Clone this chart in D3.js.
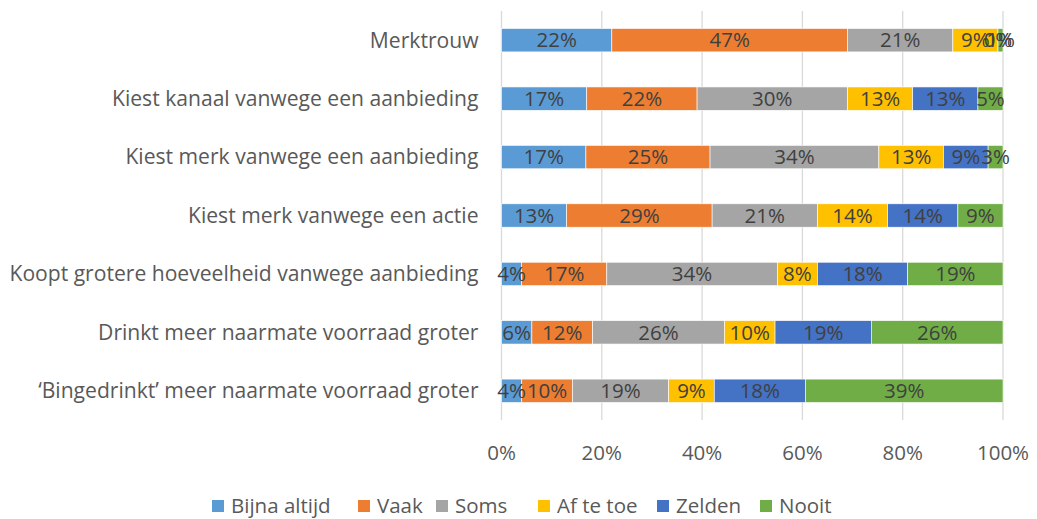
<!DOCTYPE html>
<html>
<head>
<meta charset="utf-8">
<script src="https://cdn.jsdelivr.net/npm/d3@7"></script>
<style>
  body { margin: 0; background: #fff; }
  svg { display: block; }
</style>
</head>
<body>
<svg id="chart" width="1037" height="519"></svg>
<script>
const categories = [
    'Merktrouw',
    'Kiest kanaal vanwege een aanbieding',
    'Kiest merk vanwege een aanbieding',
    'Kiest merk vanwege een actie',
    'Koopt grotere hoeveelheid vanwege aanbieding',
    'Drinkt meer naarmate voorraad groter',
    '\u2018Bingedrinkt\u2019 meer naarmate voorraad groter'
];
const seriesNames = ['Bijna altijd', 'Vaak', 'Soms', 'Af te toe', 'Zelden', 'Nooit'];
const seriesColors = ['#5B9BD5', '#ED7D31', '#A5A5A5', '#FFC000', '#4472C4', '#70AD47'];

const bijnaAltijd = [22, 17, 17, 13, 4, 6, 4];
const vaak = [47, 22, 25, 29, 17, 12, 10];
const soms = [21, 30, 34, 21, 34, 26, 19];
const afTeToe = [9, 13, 13, 14, 8, 10, 9];
const zelden = [0, 13, 9, 14, 18, 19, 18];
const nooit = [1, 5, 3, 9, 19, 26, 39];

const xTicks = [0, 0.2, 0.4, 0.6, 0.8, 1];

const fontFamily = "'Open Sans', sans-serif";
const fontSize = 20.5;

const seriesValues = [bijnaAltijd, vaak, soms, afTeToe, zelden, nooit];
const rows = categories.map((c, i) => {
    let row = { category: c };
    seriesNames.forEach((s, j) => { row[s] = seriesValues[j][i]; });
    return row;
});

const margin = { left: 501.5, top: 11, right: 34, bottom: 99 };
const width = 1037 - margin.left - margin.right;
const height = 519 - margin.top - margin.bottom;

const svg = d3.select('#chart');
const g = svg.append('g')
    .attr('transform', 'translate(' + margin.left + ',' + margin.top + ')');

const x = d3.scaleLinear().domain([0, 1]).range([0, width]);
const y = d3.scaleBand().domain(categories).range([0, height])
    .paddingInner(0.6).paddingOuter(0.3);
const color = d3.scaleOrdinal().domain(seriesNames).range(seriesColors);

const stacked = d3.stack().keys(seriesNames).offset(d3.stackOffsetExpand)(rows);

//gridlines
g.append('g')
    .selectAll('line')
    .data(xTicks)
    .join('line')
    .attr('x1', d => x(d))
    .attr('x2', d => x(d))
    .attr('y1', 0)
    .attr('y2', height)
    .style('stroke', '#D9D9D9')
    .style('stroke-width', 1.3);

//bars
const layers = g.append('g')
    .selectAll('g')
    .data(stacked)
    .join('g')
    .attr('fill', d => color(d.key));

layers.selectAll('rect')
    .data(d => d)
    .join('rect')
    .attr('x', d => x(d[0]))
    .attr('y', d => y(d.data.category))
    .attr('width', d => Math.max(0, x(d[1]) - x(d[0])))
    .attr('height', y.bandwidth())
    .style('stroke', '#fff')
    .style('stroke-width', 0.6);

//segment labels
const labels = g.append('g');
stacked.forEach(layer => {
    layer.forEach(d => {
        labels.append('text')
            .text(d.data[layer.key] + '%')
            .attr('x', (x(d[0]) + x(d[1])) / 2)
            .attr('y', y(d.data.category) + y.bandwidth() / 2)
            .attr('dy', '0.35em')
            .attr('text-anchor', 'middle')
            .attr('fill', '#404040')
            .attr('font-family', fontFamily)
            .attr('font-size', fontSize);
    });
});

//category labels
g.append('g')
    .selectAll('text')
    .data(categories)
    .join('text')
    .text(d => d)
    .attr('x', -23)
    .attr('y', d => y(d) + y.bandwidth() / 2)
    .attr('dy', '0.35em')
    .attr('text-anchor', 'end')
    .attr('fill', '#595959')
    .attr('font-family', fontFamily)
    .attr('font-size', 21.1);

//x axis labels
g.append('g')
    .selectAll('text')
    .data(xTicks)
    .join('text')
    .text(d => d3.format('.0%')(d))
    .attr('x', d => x(d))
    .attr('y', height + 33)
    .attr('dy', '0.35em')
    .attr('text-anchor', 'middle')
    .attr('fill', '#595959')
    .attr('font-family', fontFamily)
    .attr('font-size', fontSize);

//legend
const legendX = [212, 358, 436, 538, 657, 760];
const legend = svg.append('g')
    .selectAll('g')
    .data(seriesNames)
    .join('g')
    .attr('transform', (d, i) => 'translate(' + legendX[i] + ',506)');

legend.append('rect')
    .attr('x', 0)
    .attr('y', -6)
    .attr('width', 12)
    .attr('height', 12)
    .attr('fill', d => color(d));

legend.append('text')
    .text(d => d)
    .attr('x', 19)
    .attr('y', 0)
    .attr('dy', '0.35em')
    .attr('fill', '#595959')
    .attr('font-family', fontFamily)
    .attr('font-size', fontSize);
</script>
</body>
</html>
